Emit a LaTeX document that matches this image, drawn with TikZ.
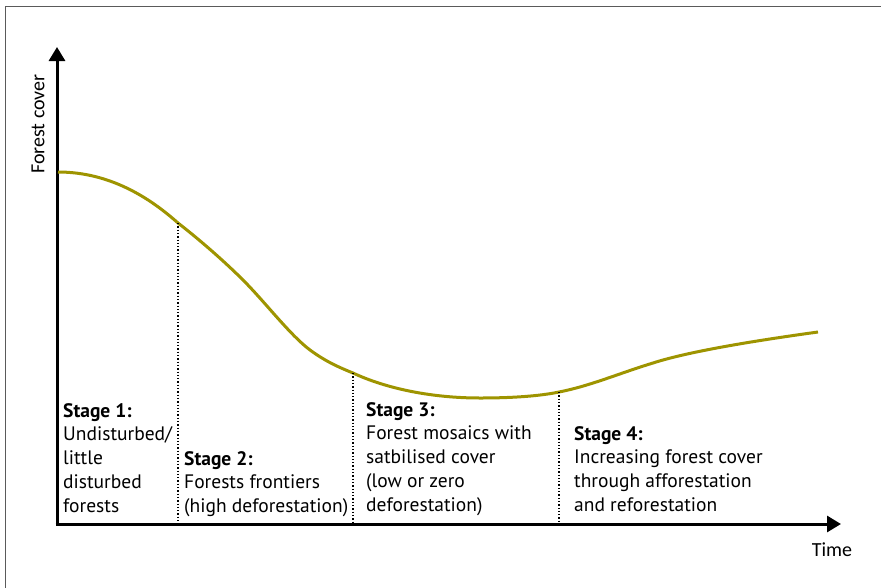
\documentclass[tikz,border=0pt]{standalone}
\usepackage{fontspec}
\setmainfont{PT Sans}
\newfontfamily\axisfont{Carlito}
\usetikzlibrary{arrows.meta}
\definecolor{olive}{RGB}{158,148,0}
\definecolor{framegray}{RGB}{90,90,90}
\tikzset{
  axis/.style={line width=3pt,-{Triangle[length=14pt,width=16pt]}},
  curve/.style={line width=3pt,color=olive},
  divider/.style={line width=1.3pt,dotted},
  stagetext/.style={align=left,inner sep=0pt,anchor=north west,font=\fontsize{19.5}{23.8}\selectfont},
  axislabel/.style={inner sep=0pt,font=\axisfont\fontsize{20}{22}\selectfont},
}
\begin{document}
\begin{tikzpicture}[x=1pt,y=-1pt]
\useasboundingbox (0,0) rectangle (881,587);
% frame
\draw[framegray,line width=1.8pt] (5.5,590) -- (5.5,6.5) -- (884,6.5);
% axes
\coordinate (O) at (57,524);
\coordinate (ytip) at (57,47);
\coordinate (xtip) at (841,524);
\draw[axis] (O) ++(0,1.5) -- (ytip);
\draw[axis] (O) ++(-1.5,0) -- (xtip);
\node[axislabel,rotate=90] (ylab) at (38,124) {Forest cover};
\node[axislabel] (xlab) at (832,550) {Time};
% curve
\coordinate (c0) at (58,172);
\coordinate (d1) at (178,223);
\coordinate (d2) at (353,373);
\coordinate (d3) at (559,392);
\coordinate (cend) at (818,332);
\draw[curve] (c0) .. controls (110,172) and (150,198) .. (d1)
  .. controls (200,240) and (225,262) .. (243,280)
  .. controls (265,302) and (290,335) .. (310,350)
  .. controls (325,361) and (338,367) .. (d2)
  .. controls (385,388) and (430,398) .. (480,398)
  .. controls (520,398) and (545,395) .. (d3)
  .. controls (590,386) and (620,373) .. (653,363)
  .. controls (690,351) and (760,340) .. (cend);
% dividers
\draw[divider] (d1) -- (d1 |- O);
\draw[divider] (d2) -- (d2 |- O);
\draw[divider] (d3) -- (d3 |- O);
% stage texts
\node[stagetext] (s1) at (63,403) {\textbf{Stage 1:}\\Undisturbed/\\little\\disturbed\\forests};
\node[stagetext] (s2) at (184,451) {\textbf{Stage 2:}\\Forests frontiers\\(high deforestation)};
\node[stagetext] (s3) at (366,402) {\textbf{Stage 3:}\\Forest mosaics with\\satbilised cover\\(low or zero\\deforestation)};
\node[stagetext] (s4) at (574,426) {\textbf{Stage 4:}\\Increasing forest cover\\through afforestation\\and reforestation};
\end{tikzpicture}
\end{document}
